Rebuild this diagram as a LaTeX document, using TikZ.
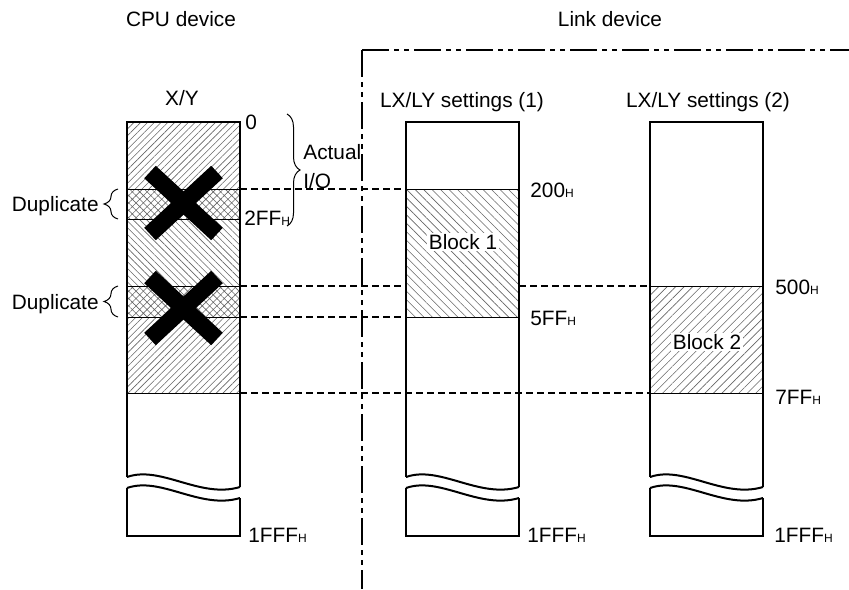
\documentclass[tikz,border=0pt]{standalone}
\usepackage{fontspec}
\setmainfont{Liberation Sans}
\usetikzlibrary{patterns.meta,decorations.pathreplacing}
\newcommand\hsub{{\fontsize{6}{6}\selectfont H}}
\begin{document}
\begin{tikzpicture}[x=0.5pt,y=-0.5pt,
  lbl/.style={inner sep=0pt, font=\fontsize{10.4}{12}\selectfont, text height=7.45pt, text depth=0pt},
  col/.style={line width=1pt},
  sep/.style={line width=0.5pt},
  guide/.style={line width=0.55pt, dash pattern=on 3.5pt off 2pt},
  dashdot/.style={line width=0.55pt, dash pattern=on 13.5pt off 2.5pt on 2.5pt off 2.5pt on 2.5pt off 2.5pt},
  fwd/.style={pattern={Lines[angle=45,distance=2.4pt,line width=0.3pt]}, pattern color=black!60},
  bwd/.style={pattern={Lines[angle=-45,distance=2.4pt,line width=0.3pt]}, pattern color=black!60},
  xhatch/.style={pattern={Hatch[angle=45,distance=2.6pt,line width=0.3pt]}, pattern color=black!60},
  fwdb/.style={pattern={Lines[angle=45,distance=3pt,line width=0.3pt]}, pattern color=black!60},
  bwdb/.style={pattern={Lines[angle=-45,distance=3pt,line width=0.3pt]}, pattern color=black!60},
  cross/.style={line width=8.5pt, line cap=butt},
  brc/.style={line width=0.5pt, decorate},
]
\useasboundingbox (0,0) rectangle (849,589);

% hatched regions
\fill[fwd] (127,122) rectangle (240,189);
\fill[xhatch] (127,189) rectangle (240,219);
\fill[bwd] (127,219) rectangle (240,286);
\fill[xhatch] (127,286) rectangle (240,317);
\fill[fwd] (127,317) rectangle (240,393);
\fill[bwdb] (406,189) rectangle (519,317);
\fill[fwdb] (650,286) rectangle (763,393);

% separator lines
\foreach \yy in {189,219,286,317,393} \draw[sep] (127,\yy) -- (240,\yy);
\foreach \yy in {189,317} \draw[sep] (406,\yy) -- (519,\yy);
\foreach \yy in {286,393} \draw[sep] (650,\yy) -- (763,\yy);

% columns with break
\foreach \x in {127,406,650} {
  \draw[col] (\x,477) -- (\x,122) -- (\x+113,122) -- (\x+113,487);
  \draw[col] (\x,477) .. controls (\x+34,465) and (\x+73,499) .. (\x+113,487);
  \draw[col] (\x,488) .. controls (\x+34,476) and (\x+73,510) .. (\x+113,498);
  \draw[col] (\x,488) -- (\x,536) -- (\x+113,536) -- (\x+113,498);
}

% crosses
\draw[cross] (150,172) -- (217,234);
\draw[cross] (217,172) -- (150,234);
\draw[cross] (150,277) -- (217,339);
\draw[cross] (217,277) -- (150,339);

% guide lines
\coordinate (g1a) at (240,189); \coordinate (g1b) at (406,189);
\coordinate (g2a) at (240,286); \coordinate (g2b) at (406,286);
\coordinate (g2c) at (519,286); \coordinate (g2d) at (650,286);
\coordinate (g3a) at (240,317); \coordinate (g3b) at (406,317);
\coordinate (g4a) at (240,393); \coordinate (g4b) at (650,393);
\draw[guide] (g1a) -- (g1b);
\draw[guide] (g2a) -- (g2b);
\draw[guide] (g2c) -- (g2d);
\draw[guide] (g3a) -- (g3b);
\draw[guide] (g4a) -- (g4b);

% link device boundary
\coordinate (corner) at (362,50);
\coordinate (hend) at (849,50);
\coordinate (vend) at (362,589);
\draw[dashdot] (corner) -- (hend);
\draw[dashdot] (corner) -- (vend);

% braces
\draw[brc, decoration={brace, amplitude=6.5pt}] (287,114) -- (287,226);
\draw[brc, decoration={brace, amplitude=7pt}] (118,219) -- (118,189);
\draw[brc, decoration={brace, amplitude=7pt}] (118,317) -- (118,286);

% texts
\node[lbl] (cpu) at (181,19) {CPU device};
\node[lbl] (link) at (610,19) {Link device};
\node[lbl] (xy) at (182,98) {X/Y};
\node[lbl] (s1) at (462,100) {LX/LY settings (1)};
\node[lbl] (s2) at (708,100) {LX/LY settings (2)};
\node[lbl,anchor=west] (l0) at (245,122) {0};
\node[lbl,anchor=west] (l2ff) at (244,218) {2FF\hsub};
\node[lbl,anchor=west] (l200) at (530,190) {200\hsub};
\node[lbl,anchor=west] (l5ff) at (530,318) {5FF\hsub};
\node[lbl,anchor=west] (l500) at (775,287) {500\hsub};
\node[lbl,anchor=west] (l7ff) at (775,397) {7FF\hsub};
\node[lbl,anchor=west] (e1) at (248,535) {1FFF\hsub};
\node[lbl,anchor=west] (e2) at (527,535) {1FFF\hsub};
\node[lbl,anchor=west] (e3) at (774,535) {1FFF\hsub};
\node[lbl,fill=white,inner sep=1pt] (b1) at (463,242) {Block 1};
\node[lbl,fill=white,inner sep=1pt] (b2) at (707,342) {Block 2};
\node[lbl,anchor=west] (act) at (303,152) {Actual};
\node[lbl,anchor=west] (io) at (303,181) {I/O};
\node[lbl,anchor=east] (d1) at (99,204) {Duplicate};
\node[lbl,anchor=east] (d2) at (99,302) {Duplicate};
\end{tikzpicture}
\end{document}
